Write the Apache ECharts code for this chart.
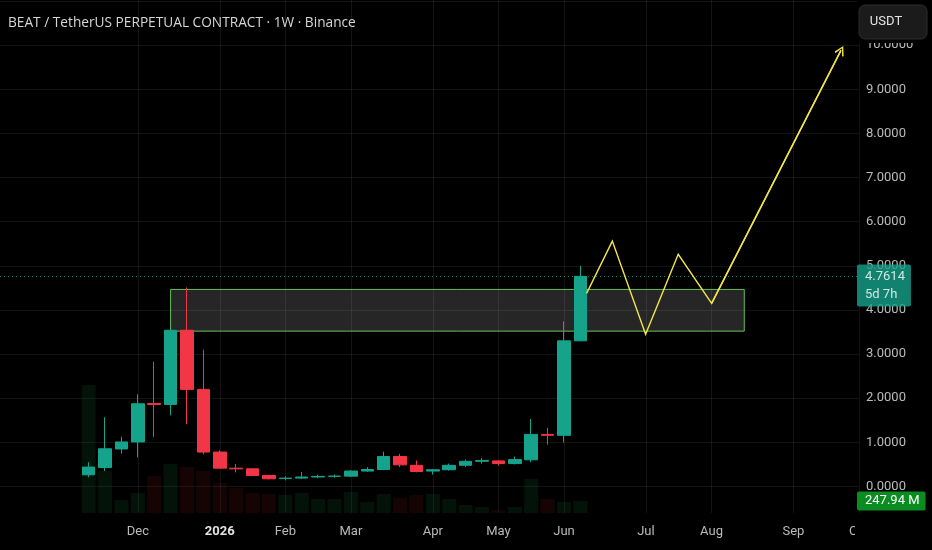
<!DOCTYPE html>
<html>
<head>
<meta charset="utf-8">
<script src="https://cdn.jsdelivr.net/npm/echarts@6/dist/echarts.min.js"></script>
<style>
html,body{margin:0;padding:0;background:#000;}
#c{width:932px;height:550px;}
</style>
</head>
<body>
<div id="c"></div>
<script>
// ---- data (weekly candles, index 0 = week of 2025-11-10) ----
var weekIdx = [0,1,2,3,4,5,6,7,8,9,10,11,12,13,14,15,16,17,18,19,20,21,22,23,24,25,26,27,28,29,30];
var opens  = [0.265,0.43,0.85,1.01,1.88,1.86,3.54,2.20,0.78,0.415,0.40,0.25,0.18,0.19,0.215,0.23,0.235,0.35,0.385,0.68,0.48,0.35,0.38,0.48,0.57,0.58,0.52,0.605,1.18,1.16,3.30];
var closes = [0.44,0.855,1.01,1.875,1.86,3.54,2.20,0.78,0.415,0.40,0.25,0.175,0.19,0.215,0.23,0.235,0.35,0.385,0.68,0.49,0.34,0.38,0.48,0.57,0.59,0.52,0.61,1.18,1.16,3.30,4.7614];
var lows   = [0.21,0.35,0.74,0.66,1.12,1.61,1.41,0.73,0.41,0.32,0.24,0.16,0.14,0.17,0.19,0.20,0.22,0.33,0.37,0.44,0.32,0.27,0.36,0.44,0.52,0.475,0.50,0.55,0.95,1.00,3.30];
var highs  = [0.55,1.57,1.13,2.09,2.83,3.55,4.51,3.10,0.82,0.51,0.41,0.26,0.227,0.33,0.27,0.27,0.37,0.44,0.79,0.74,0.59,0.40,0.52,0.61,0.65,0.60,0.68,1.53,1.33,3.74,5.00];
var volumesM = [2645,868,269,413,764,1012,950,868,620,516,413,393,372,413,289,289,434,227,393,310,372,393,289,165,124,62,124,702,289,227,247.94];

var lastPrice = 4.7614;
var lastPriceTimer = '5d 7h';
var lastVolumeLabel = '247.94 M';

// zone box [startWeek, top] -> [endWeek, bottom]
var zoneStart = [5, 4.465];
var zoneEnd = [40, 3.52];

// projected path (week index, price)
var pathX = [30.38, 31.95, 33.98, 35.97, 38.01, 45.9];
var pathY = [4.375, 5.56, 3.45, 5.26, 4.15, 9.88];

// x-axis month ticks
var tickIdx  = [3, 8, 12, 16, 21, 25, 29, 34, 38, 43, 47];
var tickText = ['Dec', '2026', 'Feb', 'Mar', 'Apr', 'May', 'Jun', 'Jul', 'Aug', 'Sep', 'Oct'];

var titleText = 'BEAT / TetherUS PERPETUAL CONTRACT \u00b7 1W \u00b7 Binance';

// ---- build ----
var UP = '#16a38c', DOWN = '#f23645';
var candleData = weekIdx.map(function (w, i) { return [w, opens[i], closes[i], lows[i], highs[i]]; });
var volData = weekIdx.map(function (w, i) {
  return { value: [w, volumesM[i]], itemStyle: { color: closes[i] >= opens[i] ? 'rgba(20,150,70,0.13)' : 'rgba(200,40,50,0.11)' } };
});
var pathCoords = pathX.map(function (x, i) { return [x, pathY[i]]; });
var lastSeg = [pathCoords[pathCoords.length - 2], pathCoords[pathCoords.length - 1]];

var XMIN = -5.41, XMAX = 47;
var gridLine = 'rgba(255,255,255,0.075)';

var chart = echarts.init(document.getElementById('c'), null, { renderer: 'canvas' });
chart.setOption({
  backgroundColor: '#000',
  animation: false,
  title: {
    text: titleText, left: 8, top: 16, padding: 0,
    textStyle: { color: '#d6d6d6', fontSize: 13.7, fontWeight: 'normal', fontFamily: 'Open Sans' }
  },
  grid: [
    { left: 0, right: 73, top: 1, bottom: 63.5 },
    { left: 0, right: 73, top: 0, bottom: 37 }
  ],
  xAxis: [
    { type: 'value', gridIndex: 0, min: XMIN, max: XMAX, show: false },
    {
      type: 'value', gridIndex: 1, min: XMIN, max: XMAX,
      axisLine: { show: false },
      axisTick: { show: false, customValues: tickIdx },
      splitLine: { show: true, lineStyle: { color: gridLine, width: 1 } },
      axisLabel: {
        customValues: tickIdx, margin: 12, color: '#b9b9b9', fontSize: 13, fontFamily: 'Roboto',
        formatter: function (v) {
          var k = tickIdx.indexOf(v);
          var t = k >= 0 ? tickText[k] : '';
          return /^\d{4}$/.test(t) ? '{b|' + t + '}' : t;
        },
        rich: { b: { fontWeight: 'bold', color: '#e2e2e2', fontSize: 13, fontFamily: 'Roboto' } }
      }
    }
  ],
  yAxis: [
    {
      type: 'value', gridIndex: 0, position: 'right', min: 0, max: 11, interval: 1,
      axisLine: { show: false }, axisTick: { show: false },
      splitLine: { show: true, lineStyle: { color: gridLine, width: 1 } },
      axisLabel: {
        margin: 7, color: '#bababa', fontSize: 13, fontFamily: 'Roboto', showMaxLabel: false,
        formatter: function (v) { return v > 10.5 ? '' : v.toFixed(4); }
      }
    },
    { type: 'value', gridIndex: 1, min: 0, max: 10600, show: false }
  ],
  series: [
    {
      type: 'bar', xAxisIndex: 1, yAxisIndex: 1, data: volData, barWidth: 14, z: 1,
      markLine: {
        silent: true, symbol: 'none',
        lineStyle: { color: 'rgba(0,0,0,0)', width: 1 },
        label: {
          show: true, position: 'end', distance: -2, formatter: lastVolumeLabel,
          color: '#ffffff', backgroundColor: '#0b8c20', fontSize: 13, fontFamily: 'Roboto',
          padding: [3, 6, 3, 8], borderRadius: 2
        },
        data: [{ yAxis: volumesM[volumesM.length - 1] }]
      }
    },
    {
      type: 'candlestick', xAxisIndex: 0, yAxisIndex: 0, data: candleData,
      encode: { x: 0, y: [1, 2, 3, 4] },
      barWidth: 13, z: 3,
      itemStyle: { color: UP, color0: DOWN, borderColor: UP, borderColor0: DOWN, borderWidth: 1 },
      markArea: {
        silent: true,
        itemStyle: { color: 'rgba(255,255,255,0.15)', borderColor: '#66c05a', borderWidth: 1 },
        data: [[{ coord: zoneStart }, { coord: zoneEnd }]]
      },
      markLine: {
        silent: true, symbol: 'none',
        lineStyle: { color: UP, type: [1, 3], width: 1, opacity: 0.8 },
        label: {
          show: true, position: 'end', distance: -2, offset: [0, 9],
          formatter: lastPrice.toFixed(4) + '\n' + lastPriceTimer,
          color: '#ffffff', backgroundColor: UP, fontSize: 13, lineHeight: 18, fontFamily: 'Roboto',
          padding: [3, 6, 3, 8], borderRadius: 2
        },
        data: [{ yAxis: lastPrice }]
      }
    },
    {
      type: 'lines', coordinateSystem: 'cartesian2d', xAxisIndex: 0, yAxisIndex: 0,
      polyline: true, z: 5,
      lineStyle: { color: '#f2e44a', width: 1.4, opacity: 1 },
      data: [{ coords: pathCoords }]
    },
    {
      type: 'lines', coordinateSystem: 'cartesian2d', xAxisIndex: 0, yAxisIndex: 0,
      polyline: false, z: 6,
      symbol: ['none', 'path://M5,0 L10,8 L8.8,9 L5,2.4 L1.2,9 L0,8 Z'],
      symbolSize: [11, 10],
      lineStyle: { color: '#f2e44a', width: 1.4, opacity: 1 },
      data: [{ coords: lastSeg }]
    }
  ],
  graphic: [
    { type: 'rect', z: 100, shape: { x: 855, y: 518, width: 77, height: 32 }, style: { fill: '#000' } },
    { type: 'rect', z: 100, shape: { x: 857, y: 0, width: 75, height: 43 }, style: { fill: '#000' } },
    { type: 'rect', z: 101, shape: { x: 859, y: 5, width: 68, height: 34, r: 6 }, style: { fill: '#1b1b1b', stroke: '#2c2c2c', lineWidth: 1 } },
    { type: 'text', z: 102, x: 886, y: 22, style: { text: 'USDT', fill: '#e4e4e4', font: '13px Roboto', textAlign: 'center', textVerticalAlign: 'middle' } }
  ]
});
</script>
</body>
</html>
